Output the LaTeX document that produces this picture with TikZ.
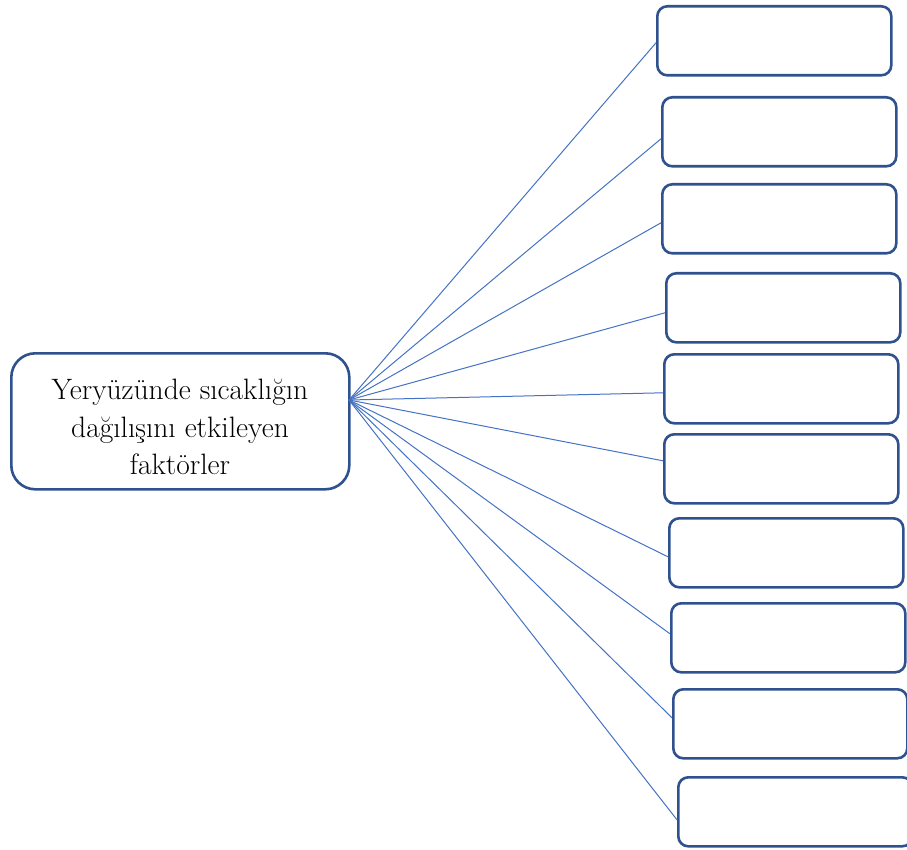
\documentclass[tikz,border=0pt]{standalone}
\usepackage{fontspec}
\definecolor{boxblue}{HTML}{2F528F}
\definecolor{linkblue}{HTML}{4472C4}
\tikzset{
  rbox/.style={draw=boxblue, line width=2.6pt, rounded corners=10pt, minimum width=234pt, minimum height=69pt, inner sep=0pt, anchor=north west},
  hubbox/.style={draw=boxblue, line width=2.6pt, rounded corners=24pt, minimum width=338pt, minimum height=136pt, inner sep=0pt, anchor=north west},
  hubtext/.style={align=center, inner sep=0pt, font=\fontsize{29.5}{37.5}\selectfont},
  link/.style={draw=linkblue, line width=1pt}
}
\begin{document}
\begin{tikzpicture}[x=1pt,y=-1pt]
\useasboundingbox (0,0) rectangle (907,850);
\node[hubbox] (c) at (10,352) {};
\node[hubtext] (ct) at (180,427) {Yeryüzünde sıcaklığın\\dağılışını etkileyen\\faktörler};
\coordinate (hub) at (349,400);
\node[rbox] (b1) at (656,5) {};
\node[rbox] (b2) at (661,96) {};
\node[rbox] (b3) at (661,183) {};
\node[rbox] (b4) at (665,272) {};
\node[rbox] (b5) at (663,353) {};
\node[rbox] (b6) at (663,433) {};
\node[rbox] (b7) at (668,517) {};
\node[rbox] (b8) at (670,602) {};
\node[rbox] (b9) at (672,688) {};
\node[rbox] (b10) at (677,776) {};
\draw[link] (hub) -- ([yshift=-2pt]b1.west);
\draw[link] (hub) -- ([yshift=-7pt]b2.west);
\draw[link] (hub) -- ([yshift=-4pt]b3.west);
\draw[link] (hub) -- ([yshift=-5pt]b4.west);
\draw[link] (hub) -- ([yshift=-4pt]b5.west);
\draw[link] (hub) -- ([yshift=8pt]b6.west);
\draw[link] (hub) -- ([yshift=-4pt]b7.west);
\draw[link] (hub) -- ([yshift=4pt]b8.west);
\draw[link] (hub) -- ([yshift=6pt]b9.west);
\draw[link] (hub) -- ([yshift=-8pt]b10.west);
\end{tikzpicture}
\end{document}
